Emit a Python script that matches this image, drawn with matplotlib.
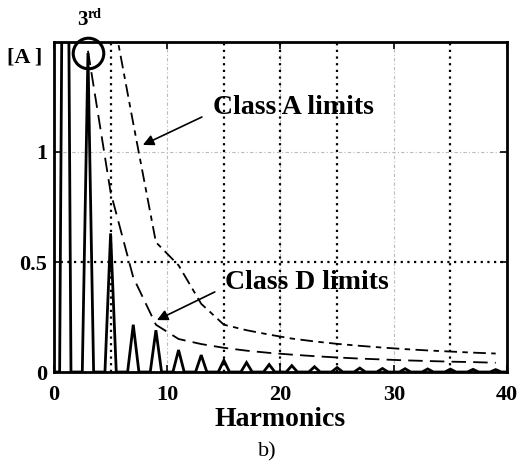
import numpy as np
import matplotlib
matplotlib.use("Agg")
import matplotlib.pyplot as plt

plt.rcParams['font.family'] = ['Liberation Serif', 'DejaVu Serif']

# Measured current spectrum (odd harmonics, amplitude in A)
harmonic_order = [1, 3, 5, 7, 9, 11, 13, 15, 17, 19, 21, 23, 25, 27, 29, 31, 33, 35, 37, 39]
harmonic_amp = [4.1, 1.45, 0.63, 0.215, 0.19, 0.10, 0.077, 0.053, 0.043, 0.034, 0.029,
                0.024, 0.020, 0.018, 0.016, 0.015, 0.014, 0.013, 0.012, 0.011]

# IEC 61000-3-2 limit curves (odd harmonics 3..39)
limit_order = [3, 5, 7, 9, 11, 13, 15, 17, 19, 21, 23, 25, 27, 29, 31, 33, 35, 37, 39]
class_a_limit = [3.38, 1.68, 1.13, 0.59, 0.485, 0.31, 0.215, 0.19, 0.17, 0.152, 0.139,
                 0.128, 0.119, 0.111, 0.104, 0.098, 0.093, 0.088, 0.084]
class_d_limit = [1.46, 0.817, 0.43, 0.215, 0.15, 0.127, 0.11, 0.097, 0.087, 0.079, 0.072,
                 0.066, 0.061, 0.057, 0.053, 0.050, 0.047, 0.045, 0.042]

x_ticks = [0, 10, 20, 30, 40]
y_ticks = [0, 0.5, 1]
y_tick_labels = ['0', '0.5', '1']

fig = plt.figure(figsize=(5.17, 4.66), dpi=100)
ax = fig.add_axes([0.1044, 0.2017, 0.8763, 0.7082])

# spectrum drawn at half-harmonic resolution: zero between the odd lines
sx, sy = [0.0], [0.0]
for n, a in zip(harmonic_order, harmonic_amp):
    sx += [n - 0.5, n, n + 0.5]
    sy += [0.0, a, 0.0]
sx.append(40.0)
sy.append(0.0)

# light grid at tick positions
for xv in [10, 20, 30]:
    ax.axvline(xv, color='#bbbbbb', lw=0.8, ls=(0, (3, 2, 1, 2)), zorder=1)
ax.axhline(1, color='#bbbbbb', lw=0.8, ls=(0, (3, 2, 1, 2)), zorder=1)

# heavy dotted reference lines
for xv in [5, 15, 20, 25, 35]:
    ax.axvline(xv, color='black', lw=1.6, ls=(0, (1, 2)), zorder=2)
ax.axhline(0.5, color='black', lw=1.6, ls=(0, (1, 2)), zorder=2)

ax.plot(limit_order, class_a_limit, color='black', lw=1.3, ls=(0, (7, 3, 3, 3)), zorder=3)
ax.plot(limit_order, class_d_limit, color='black', lw=1.3, ls=(0, (8, 4)), zorder=3)

ax.plot(sx, sy, color='black', lw=2.0, zorder=4, solid_joinstyle='miter')

# highlight the 3rd harmonic
ax.plot([harmonic_order[1]], [harmonic_amp[1]], marker='o', ms=22, mfc='none',
        mec='black', mew=2.2, clip_on=False, zorder=6)

ax.set_xlim(0, 40)
ax.set_ylim(0, 1.5)
ax.set_xticks(x_ticks)
ax.set_yticks(y_ticks)
ax.set_yticklabels(y_tick_labels)
ax.tick_params(direction='in', top=True, right=True, length=5, width=1.2,
               labelsize=16)
ax.tick_params(axis='x', pad=9)
ax.tick_params(axis='y', pad=5)
for lab in ax.get_xticklabels() + ax.get_yticklabels():
    lab.set_fontweight('bold')
for sp in ax.spines.values():
    sp.set_linewidth(2.0)

ax.set_xlabel('Harmonics', fontsize=20, fontweight='bold', labelpad=2)

ax.text(-1.0, 1.43, '[A ]', fontsize=16, fontweight='bold', ha='right', va='center',
        clip_on=False)
ax.text(3.0, 1.60, '3', fontsize=15, fontweight='bold', ha='right', va='center',
        clip_on=False)
ax.text(3.0, 1.625, 'rd', fontsize=10, fontweight='bold', ha='left', va='center',
        clip_on=False)

ax.annotate('', xy=(7.85, 1.032), xytext=(13.06, 1.159),
            arrowprops=dict(arrowstyle='-|>', color='black', lw=1.2,
                            mutation_scale=16, shrinkA=0, shrinkB=0))
ax.text(14.0, 1.2, 'Class A limits', fontsize=20, fontweight='bold', ha='left', va='center')

ax.annotate('', xy=(9.09, 0.236), xytext=(14.2, 0.364),
            arrowprops=dict(arrowstyle='-|>', color='black', lw=1.2,
                            mutation_scale=16, shrinkA=0, shrinkB=0))
ax.text(15.1, 0.405, 'Class D limits', fontsize=20, fontweight='bold', ha='left', va='center')

fig.text(267 / 517, 1 - 452 / 466, 'b)', fontsize=16, ha='center', va='center')

fig.savefig('out.png', dpi=100)
